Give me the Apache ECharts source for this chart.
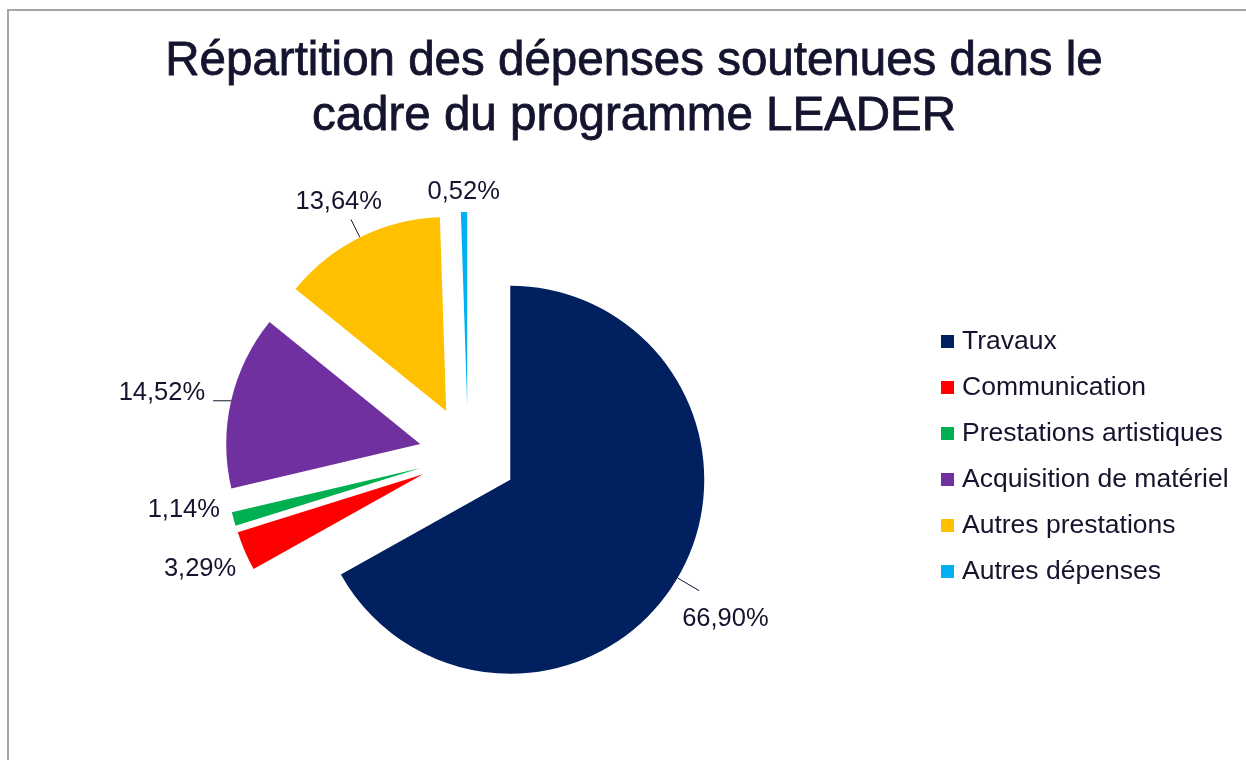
<!DOCTYPE html>
<html>
<head>
<meta charset="utf-8">
<script src="https://cdn.jsdelivr.net/npm/echarts@6/dist/echarts.min.js"></script>
<style>
  html, body { margin: 0; padding: 0; background: #fff; overflow: hidden; }
  #frame {
    position: absolute; left: 7px; top: 9px; width: 1300px; height: 800px;
    border-left: 2px solid #a6a6a6; border-top: 2px solid #a6a6a6;
  }
  #chart { position: absolute; left: 0; top: 0; width: 1246px; height: 760px; }
</style>
</head>
<body>
<div id="frame"></div>
<div id="chart"></div>
<script>
// catégories et parts (%)
const categories = ['Travaux', 'Communication', 'Prestations artistiques', 'Acquisition de matériel', 'Autres prestations', 'Autres dépenses'];
const shares = [66.90, 3.29, 1.14, 14.52, 13.64, 0.52];
const colors = ['#002060', '#ff0000', '#00b050', '#7030a0', '#ffc000', '#00b0f0'];

const textColor = '#14142e';

// traits de repère : longueurs et visibilité par part
const lineLen = [25, 30, 10, 0, 20, 10];
const lineLen2 = [0, 0, 0, 18, 0, 0];
const showLine = [true, false, false, true, true, false];
// décalage du texte par rapport au bout du trait (façon Excel)
const labelDx = [-22, 24, 1, -3, 36, 41];
const labelDy = [28, 6, -12, -8, -18, -10];

const fmtPct = v => v.toFixed(2).replace('.', ',') + '%';

// étiquette d'une part : décalage horizontal par marge, vertical par ligne vide
function labelFor(i) {
  const leftSide = i > 0; // parts 1..5 : étiquette à gauche, alignée à droite
  const dx = labelDx[i], dy = labelDy[i];
  return {
    padding: [0, leftSide ? -dx : 0, 0, leftSide ? 0 : dx],
    lineHeight: Math.max(2 * Math.abs(dy), 1),
    formatter: p => (dy > 0 ? '\n' : '') + fmtPct(p.value) + (dy < 0 ? '\n' : '')
  };
}

const chart = echarts.init(document.getElementById('chart'), null, { renderer: 'canvas' });

chart.setOption({
  animation: false,
  title: {
    text: 'Répartition des dépenses soutenues dans le\ncadre du programme LEADER',
    left: 629,
    top: 29,
    textAlign: 'center',
    textStyle: {
      color: textColor,
      fontFamily: 'Liberation Sans',
      fontWeight: 'normal',
      fontSize: 47.5,
      lineHeight: 55,
      textBorderColor: textColor,
      textBorderWidth: 0.8
    }
  },
  legend: {
    orient: 'vertical',
    left: 936,
    top: 323,
    icon: 'rect',
    itemWidth: 13,
    itemHeight: 13,
    itemGap: 19,
    itemStyle: { borderWidth: 0 },
    textStyle: { color: textColor, fontFamily: 'Liberation Sans', fontSize: 26.5, padding: [0, 0, 0, 3] },
    data: categories
  },
  series: [{
    type: 'pie',
    center: [468, 455],
    radius: 194,
    startAngle: 90,
    clockwise: true,
    selectedMode: 'multiple',
    selectedOffset: 49,
    avoidLabelOverlap: false,
    labelLayout: { hideOverlap: false },
    emphasis: { disabled: true },
    select: { itemStyle: { borderWidth: 0 } },
    label: {
      show: true,
      position: 'outside',
      color: textColor,
      fontFamily: 'Liberation Sans',
      fontSize: 25.5
    },
    labelLine: {
      show: true,
      lineStyle: { color: '#14142e', width: 1 }
    },
    data: categories.map((name, i) => ({
      name: name,
      value: shares[i],
      selected: true,
      itemStyle: { color: colors[i] },
      label: labelFor(i),
      labelLine: { show: showLine[i], length: lineLen[i], length2: lineLen2[i] }
    }))
  }]
});
</script>
</body>
</html>
